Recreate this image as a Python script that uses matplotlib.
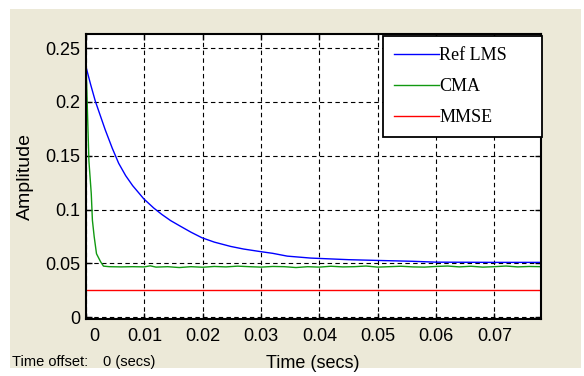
import matplotlib
matplotlib.use("Agg")
import matplotlib.pyplot as plt
from matplotlib.patches import Rectangle
import matplotlib.transforms as mtransforms

# ---------------- data ----------------
lms_t = [0.0, 0.0008, 0.0016, 0.0025, 0.0033, 0.0045, 0.0056, 0.0068, 0.0080,
         0.0090, 0.0099, 0.0116, 0.0130, 0.0145, 0.0162, 0.0180, 0.0199, 0.0220,
         0.0248, 0.0270, 0.0299, 0.0320, 0.0345, 0.0385, 0.0450, 0.0500, 0.0560,
         0.0600, 0.0700, 0.0780]
lms_y = [0.2325, 0.2160, 0.2006, 0.1865, 0.1740, 0.1570, 0.1430, 0.1315, 0.1222,
         0.1158, 0.1100, 0.1015, 0.0955, 0.0898, 0.0845, 0.0790, 0.0738, 0.0698,
         0.0658, 0.0634, 0.0610, 0.0594, 0.0568, 0.0550, 0.0535, 0.0528, 0.0520,
         0.0512, 0.0510, 0.0510]

cma_t = [0.0, 0.0002, 0.0005, 0.0009, 0.0011, 0.0014, 0.0018, 0.0025, 0.0030,
         0.0040, 0.0060, 0.0080, 0.0100, 0.0110, 0.0120, 0.0140, 0.0160, 0.0180,
         0.0200, 0.0220, 0.0240, 0.0260, 0.0280, 0.0300, 0.0320, 0.0340, 0.0360,
         0.0380, 0.0400, 0.0420, 0.0440, 0.0460, 0.0480, 0.0500, 0.0520, 0.0540,
         0.0560, 0.0580, 0.0600, 0.0620, 0.0640, 0.0660, 0.0680, 0.0700, 0.0720,
         0.0740, 0.0760, 0.0780]
cma_y = [0.2370, 0.2000, 0.1450, 0.1150, 0.0900, 0.0750, 0.0590, 0.0516, 0.0475,
         0.0470, 0.0468, 0.0470, 0.0468, 0.0478, 0.0466, 0.0470, 0.0462, 0.0470,
         0.0465, 0.0472, 0.0468, 0.0475, 0.0470, 0.0466, 0.0472, 0.0470, 0.0462,
         0.0470, 0.0466, 0.0474, 0.0468, 0.0470, 0.0476, 0.0466, 0.0470, 0.0474,
         0.0468, 0.0466, 0.0472, 0.0476, 0.0468, 0.0474, 0.0466, 0.0470, 0.0476,
         0.0468, 0.0472, 0.0470]

mmse_t = [0.0, 0.0780]
mmse_y = [0.025, 0.025]

series_labels = ["Ref LMS", "CMA", "MMSE"]
x_ticks = [0, 0.01, 0.02, 0.03, 0.04, 0.05, 0.06, 0.07]
x_tick_labels = ["0", "0.01", "0.02", "0.03", "0.04", "0.05", "0.06", "0.07"]
y_ticks = [0, 0.05, 0.1, 0.15, 0.2, 0.25]
y_tick_labels = ["0", "0.05", "0.1", "0.15", "0.2", "0.25"]

# ---------------- figure ----------------
W, H = 584, 376
fig = plt.figure(figsize=(W / 100, H / 100), dpi=100, facecolor="white")
bg = Rectangle((10 / W, 1 - 368 / H), (581 - 10) / W, (368 - 9) / H,
               transform=fig.transFigure, facecolor="#ECE9D8", edgecolor="none",
               zorder=-10)
fig.patches.append(bg)

ax_l, ax_r, ax_t, ax_b = 86, 541, 34, 318.5
ax = fig.add_axes([ax_l / W, 1 - ax_b / H, (ax_r - ax_l) / W, (ax_b - ax_t) / H])
ax.set_facecolor("white")

ax.plot(lms_t, lms_y, color="#0000FF", lw=1.0, label=series_labels[0], zorder=3)
ax.plot(cma_t, cma_y, color="#119911", lw=1.0, label=series_labels[1], zorder=3)
ax.plot(mmse_t, mmse_y, color="#FF0000", lw=1.0, label=series_labels[2], zorder=3)

ax.set_xlim(0, 0.078)
ax.set_ylim(-0.0011, 0.263)
ax.set_xticks(x_ticks)
ax.set_xticklabels(x_tick_labels)
ax.set_yticks(y_ticks)
ax.set_yticklabels(y_tick_labels)

for lab in ax.get_xticklabels() + ax.get_yticklabels():
    lab.set_fontfamily("Liberation Sans")
    lab.set_fontsize(13)

ax.tick_params(direction="in", length=4, width=1, colors="black",
               top=True, right=True)
ax.tick_params(axis="x", pad=7)
ax.tick_params(axis="y", pad=4)

# shift first x tick label right, as in reference
first = ax.get_xticklabels()[0]
first.set_transform(first.get_transform() +
                    mtransforms.ScaledTranslation(8 / 100, 0, fig.dpi_scale_trans))

ax.grid(True, color="black", linestyle=(0, (4, 3)), linewidth=0.8)
ax.set_axisbelow(False)
for sp in ax.spines.values():
    sp.set_color("black")
    sp.set_linewidth(1.5)
    sp.set_zorder(5)

# legend
leg = ax.legend(loc="upper left", bbox_to_anchor=(0.653, 0.993, 0.349, 0.0),
                mode="expand", borderaxespad=0, frameon=True, fancybox=False,
                edgecolor="black", facecolor="white", framealpha=1,
                prop=dict(family="Liberation Serif", size=13),
                handlelength=2.5, handletextpad=0.0, labelspacing=0.78,
                borderpad=0.6)
leg.get_frame().set_linewidth(1.3)
leg.set_zorder(6)

# axis labels
fig.text(25 / W, 1 - 176 / H, "Amplitude", rotation=90, ha="center", va="center",
         family="Liberation Sans", size=14)
fig.text(313 / W, 1 - 364 / H, "Time (secs)", ha="center", va="center",
         family="Liberation Sans", size=13)
fig.text(12 / W, 1 - 362 / H, "Time offset:", ha="left", va="center",
         family="Liberation Sans", size=10.5)
fig.text(103 / W, 1 - 362 / H, "0 (secs)", ha="left", va="center",
         family="Liberation Sans", size=10.5)

fig.savefig("out.png", dpi=100, facecolor="white")
